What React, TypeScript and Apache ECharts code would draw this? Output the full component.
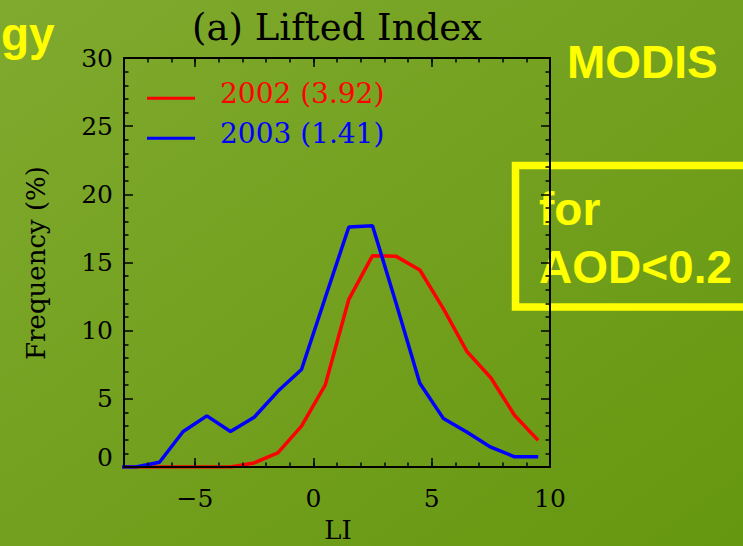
import React, { useEffect, useRef } from "react";
import * as echarts from "echarts";

// Lifted Index bin centres and frequency (%) per year
const LI_BINS = [-8.5, -7.5, -6.5, -5.5, -4.5, -3.5, -2.5, -1.5, -0.5, 0.5, 1.5, 2.5, 3.5, 4.5, 5.5, 6.5, 7.5, 8.5, 9.5];
const FREQ_2002 = [0, 0, 0, 0, 0, 0, 0.3, 1.03, 3.0, 6.0, 12.3, 15.5, 15.45, 14.45, 11.6, 8.45, 6.55, 3.8, 1.95];
const FREQ_2003 = [0, 0, 0.35, 2.6, 3.75, 2.6, 3.65, 5.55, 7.15, 12.4, 17.6, 17.7, 12.0, 6.15, 3.55, 2.55, 1.45, 0.75, 0.75];

const SERIES_NAMES = ["2002 (3.92)", "2003 (1.41)"];
const SERIES_COLORS = ["#ff0000", "#0000ff"];
const X_MAJOR_TICKS = [-5, 0, 5, 10];

const SERIF = "DejaVu Serif";
const SANS = "Liberation Sans";
const YELLOW = "#ffff00";

const tickLine = { color: "#000", width: 1.5 };

function xLabel(v: number): string {
  if (v % 5 !== 0) return "";
  return v < 0 ? "\u2212" + Math.abs(v) : String(v);
}

export default function App() {
  const ref = useRef<HTMLDivElement>(null);

  useEffect(() => {
    if (!ref.current) return;
    const chart = echarts.init(ref.current, null, { renderer: "svg" });

    const xBase = {
      type: "value" as const,
      gridIndex: 0,
      min: -8,
      max: 10,
      interval: 1,
      z: 10,
      splitLine: { show: false },
    };
    const yBase = {
      type: "value" as const,
      gridIndex: 0,
      min: 0,
      max: 30,
      interval: 5,
      z: 10,
      splitLine: { show: false },
      minorSplitLine: { show: false },
      axisLine: { show: true, onZero: false, lineStyle: { color: "#000", width: 2 } },
      axisTick: { show: true, inside: true, length: 9, lineStyle: tickLine },
      minorTick: { show: true, splitNumber: 5, length: 4.5, lineStyle: tickLine },
    };

    chart.setOption({
      animation: false,
      backgroundColor: new echarts.graphic.LinearGradient(0, 0, 1, 1, [
        { offset: 0, color: "#80aa2e" },
        { offset: 1, color: "#669710" },
      ]),
      grid: { left: 124, right: 193, top: 58, bottom: 79, containLabel: false },
      xAxis: [
        {
          ...xBase,
          position: "bottom",
          axisLine: { show: true, onZero: false, lineStyle: { color: "#000", width: 2 } },
          axisTick: { show: true, inside: true, length: 4.5, lineStyle: tickLine },
          axisLabel: {
            show: true,
            margin: 19,
            formatter: xLabel,
            fontFamily: SERIF,
            fontSize: 25,
            color: "#000",
          },
        },
        {
          ...xBase,
          position: "bottom",
          axisLine: { show: false, onZero: false },
          axisTick: { show: true, inside: true, length: 9, customValues: X_MAJOR_TICKS, lineStyle: tickLine },
          axisLabel: { show: false },
        },
        {
          ...xBase,
          position: "top",
          axisLine: { show: true, onZero: false, lineStyle: { color: "#000", width: 2 } },
          axisTick: { show: true, inside: true, length: 4.5, lineStyle: tickLine },
          axisLabel: { show: false },
        },
        {
          ...xBase,
          position: "top",
          axisLine: { show: false, onZero: false },
          axisTick: { show: true, inside: true, length: 9, customValues: X_MAJOR_TICKS, lineStyle: tickLine },
          axisLabel: { show: false },
        },
      ],
      yAxis: [
        {
          ...yBase,
          position: "left",
          axisLabel: {
            show: true,
            margin: 11,
            fontFamily: SERIF,
            fontSize: 25,
            color: "#000",
            formatter: (v: number) => (v === 0 ? "{z|0}" : String(v)),
            rich: {
              z: { fontFamily: SERIF, fontSize: 25, color: "#000", padding: [0, 0, 19, 0] },
            },
          },
        },
        {
          ...yBase,
          position: "right",
          axisLabel: { show: false },
        },
      ],
      series: [
        {
          name: SERIES_NAMES[0],
          type: "line",
          xAxisIndex: 0,
          yAxisIndex: 0,
          data: LI_BINS.map((x, i) => [x, FREQ_2002[i]]),
          symbol: "none",
          clip: true,
          z: 5,
          lineStyle: { color: SERIES_COLORS[0], width: 3.5 },
        },
        {
          name: SERIES_NAMES[1],
          type: "line",
          xAxisIndex: 0,
          yAxisIndex: 0,
          data: LI_BINS.map((x, i) => [x, FREQ_2003[i]]),
          symbol: "none",
          clip: true,
          z: 6,
          lineStyle: { color: SERIES_COLORS[1], width: 3.5 },
        },
      ],
      graphic: [
        // slide headings in yellow
        {
          type: "text",
          z: 0,
          style: {
            text: "gy",
            x: 1,
            y: 34,
            align: "left",
            verticalAlign: "middle",
            font: `bold 46px "${SANS}"`,
            fill: YELLOW,
          },
        },
        {
          type: "text",
          z: 0,
          style: {
            text: "MODIS",
            x: 567,
            y: 62,
            align: "left",
            verticalAlign: "middle",
            font: `bold 46px "${SANS}"`,
            fill: YELLOW,
          },
        },
        {
          type: "rect",
          z: 0,
          shape: { x: 515.5, y: 165.5, width: 300, height: 141.5 },
          style: { fill: "none", stroke: YELLOW, lineWidth: 7.5 },
        },
        {
          type: "text",
          z: 0,
          style: {
            text: "for",
            x: 539,
            y: 209,
            align: "left",
            verticalAlign: "middle",
            font: `bold 46px "${SANS}"`,
            fill: YELLOW,
          },
        },
        {
          type: "text",
          z: 0,
          style: {
            text: "AOD<0.2",
            x: 539,
            y: 267,
            align: "left",
            verticalAlign: "middle",
            font: `bold 46px "${SANS}"`,
            fill: YELLOW,
          },
        },
        // plot title and axis names
        {
          type: "text",
          z: 0,
          style: {
            text: "(a) Lifted Index",
            x: 337,
            y: 27,
            align: "center",
            verticalAlign: "middle",
            font: `37px "${SERIF}"`,
            fill: "#000",
          },
        },
        {
          type: "text",
          z: 0,
          x: 35.5,
          y: 263,
          rotation: Math.PI / 2,
          style: {
            text: "Frequency (%)",
            x: 0,
            y: 0,
            align: "center",
            verticalAlign: "middle",
            font: `26px "${SERIF}"`,
            fill: "#000",
          },
        },
        {
          type: "text",
          z: 0,
          style: {
            text: "LI",
            x: 338,
            y: 530,
            align: "center",
            verticalAlign: "middle",
            font: `26px "${SERIF}"`,
            fill: "#000",
          },
        },
        // legend
        {
          type: "line",
          z: 12,
          shape: { x1: 147, y1: 98.3, x2: 195, y2: 98.3 },
          style: { stroke: SERIES_COLORS[0], lineWidth: 3 },
        },
        {
          type: "text",
          z: 12,
          style: {
            text: SERIES_NAMES[0],
            x: 220,
            y: 93,
            align: "left",
            verticalAlign: "middle",
            font: `28px "${SERIF}"`,
            fill: SERIES_COLORS[0],
          },
        },
        {
          type: "line",
          z: 12,
          shape: { x1: 147, y1: 138.3, x2: 195, y2: 138.3 },
          style: { stroke: SERIES_COLORS[1], lineWidth: 3 },
        },
        {
          type: "text",
          z: 12,
          style: {
            text: SERIES_NAMES[1],
            x: 220,
            y: 133,
            align: "left",
            verticalAlign: "middle",
            font: `28px "${SERIF}"`,
            fill: SERIES_COLORS[1],
          },
        },
      ],
    });

    return () => chart.dispose();
  }, []);

  return (
    <div
      ref={ref}
      style={{ position: "absolute", left: 0, top: 0, width: 743, height: 546, overflow: "hidden" }}
    />
  );
}
